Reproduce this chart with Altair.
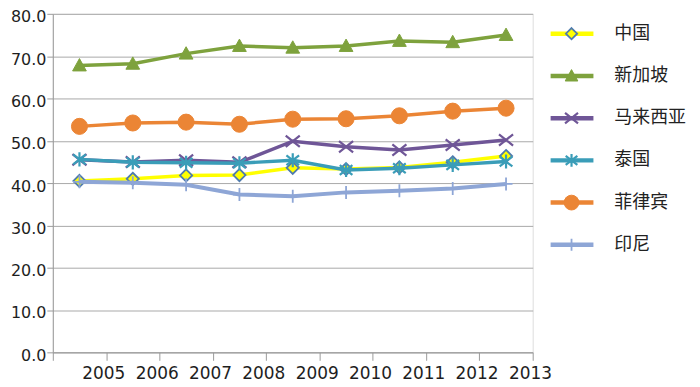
import altair as alt
import pandas as pd

years = [2005, 2006, 2007, 2008, 2009, 2010, 2011, 2012, 2013]
series_names = ["中国", "新加坡", "马来西亚", "泰国", "菲律宾", "印尼"]
china = [40.5, 41.0, 41.8, 41.9, 43.6, 43.3, 43.7, 44.9, 46.4]
singapore = [67.8, 68.2, 70.6, 72.4, 72.0, 72.4, 73.6, 73.3, 75.0]
malaysia = [45.5, 45.0, 45.4, 44.9, 49.9, 48.6, 47.8, 49.0, 50.2]
thailand = [45.6, 44.9, 44.8, 44.7, 45.4, 43.1, 43.5, 44.3, 45.1]
philippines = [53.4, 54.2, 54.4, 53.9, 55.1, 55.2, 55.9, 57.0, 57.7]
indonesia = [40.3, 40.1, 39.6, 37.3, 36.9, 37.8, 38.2, 38.7, 39.8]
y_ticks = [0, 10, 20, 30, 40, 50, 60, 70, 80]

values = [china, singapore, malaysia, thailand, philippines, indonesia]
rows = []
for name, vals in zip(series_names, values):
    for yr, v in zip(years, vals):
        rows.append({"series": name, "year": str(yr), "value": v})
df = pd.DataFrame(rows)
legend_df = pd.DataFrame({"series": series_names})

# styles: line colour, marker path, fill, stroke, size, marker stroke width, line width
styles = {
    "中国": dict(line="#FFFF00", shape="M0,-1L1,0L0,1L-1,0Z", fill="#FFFF00", stroke="#4F7BAE", size=150, sw=1.8, lw=3.5),
    "新加坡": dict(line="#7EA23D", shape="M0,-1L1,0.8L-1,0.8Z", fill="#7EA23D", stroke="#7EA23D", size=190, sw=1, lw=3.5),
    "马来西亚": dict(line="#6F5697", shape="M-1,-0.8L1,0.8M-1,0.8L1,-0.8", fill="#6F5697", stroke="#6F5697", size=200, sw=2.2, lw=3.5),
    "泰国": dict(line="#3A9DB8", shape="M-0.9,-0.7L0.9,0.7M-0.9,0.7L0.9,-0.7M0,-1L0,1", fill="#3A9DB8", stroke="#3A9DB8", size=200, sw=2.2, lw=3.5),
    "菲律宾": dict(line="#EB8535", shape="circle", fill="#EB8535", stroke="#EB8535", size=260, sw=1, lw=3.5),
    "印尼": dict(line="#8EA6D6", shape="M-1,0L1,0M0,-1L0,1", fill="#8EA6D6", stroke="#8EA6D6", size=170, sw=1.8, lw=4),
}

x_enc = alt.X(
    "year:O",
    scale=alt.Scale(type="band", paddingInner=0, paddingOuter=0),
    axis=alt.Axis(
        title=None, grid=False, tickBand="extent", labelOffset=24, labelAngle=0,
        labelFont="DejaVu Sans", labelFontSize=17, labelColor="#1e1e1e",
        domainColor="#9a9a9a", tickColor="#9a9a9a", tickSize=8, labelPadding=5,
    ),
)
y_enc = alt.Y(
    "value:Q",
    scale=alt.Scale(domain=[0, 80], nice=False),
    axis=alt.Axis(
        title=None, values=y_ticks, labelExpr="format(datum.value, '.1f')",
        labelFont="DejaVu Sans", labelFontSize=16, labelColor="#1e1e1e",
        domainColor="#9a9a9a", tickColor="#9a9a9a", gridColor="#a8a8a8",
        tickSize=6, labelPadding=1, labelOffset=3,
    ),
)

base = alt.Chart(df)
main_layers = []
for name in series_names:
    st = styles[name]
    sub = base.transform_filter(alt.datum.series == name)
    main_layers.append(
        sub.mark_line(color=st["line"], strokeWidth=st["lw"]).encode(x=x_enc, y=y_enc)
    )
    main_layers.append(
        sub.mark_point(shape=st["shape"], filled=True, fill=st["fill"], stroke=st["stroke"],
                       strokeWidth=st["sw"], size=st["size"], opacity=1).encode(x=x_enc, y=y_enc)
    )
main = alt.layer(*main_layers)

leg_y = alt.Y("series:N", sort=series_names,
              scale=alt.Scale(type="point", domain=series_names, range=[20, 232], padding=0),
              axis=None)
leg_base = alt.Chart(legend_df)
legend_layers = []
for name in series_names:
    st = styles[name]
    sub = leg_base.transform_filter(alt.datum.series == name)
    legend_layers.append(
        sub.mark_rule(color=st["line"], strokeWidth=4.5).encode(
            x=alt.value(500), x2=alt.value(543), y=leg_y)
    )
    legend_layers.append(
        sub.mark_point(shape=st["shape"], filled=True, fill=st["fill"], stroke=st["stroke"],
                       strokeWidth=st["sw"], size=st["size"] * 0.85, opacity=1).encode(
            x=alt.value(521), y=leg_y)
    )
legend_layers.append(
    leg_base.mark_text(align="left", baseline="middle", font="Noto Sans CJK SC",
                       fontSize=18, color="#222222").encode(
        x=alt.value(564), y=leg_y, text="series:N")
)
legend = alt.layer(*legend_layers)

chart = alt.layer(main, legend).resolve_scale(y="independent").properties(
    width=482, height=340,
    autosize=alt.AutoSizeParams(type="none"),
    padding={"left": 45, "top": 5, "right": 160, "bottom": 40},
).configure_view(stroke=None).configure(background="white")

chart.save("out.html", embed_options={"renderer": "svg", "actions": False})
